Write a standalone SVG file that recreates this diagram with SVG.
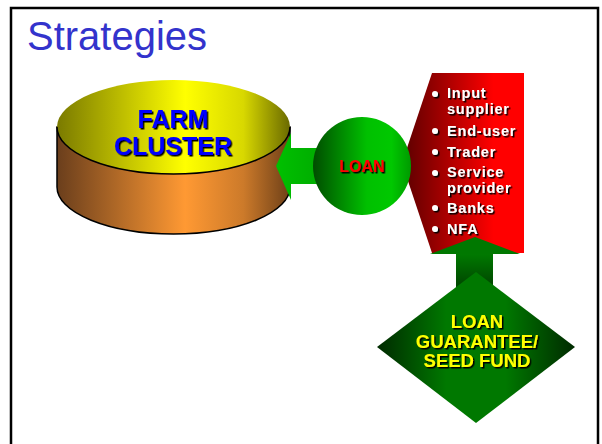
<svg xmlns="http://www.w3.org/2000/svg" width="602" height="444" viewBox="0 0 602 444">
<defs>
<style>
.t{font-family:"Liberation Sans",Arial,sans-serif;font-weight:bold}
.sh{filter:url(#ds)}
.item{font-size:14.5px;fill:#fff;letter-spacing:0.8px}
</style>
<filter id="ds" x="-10%" y="-20%" width="130%" height="150%">
<feDropShadow dx="1.5" dy="1.5" stdDeviation="0" flood-color="#000" flood-opacity="1"/>
</filter>
<linearGradient id="gTop" x1="0" y1="0" x2="1" y2="0">
<stop offset="0" stop-color="#7a7a00"/>
<stop offset="0.55" stop-color="#ffff00"/>
<stop offset="0.8" stop-color="#d8d800"/>
<stop offset="1" stop-color="#6a6a00"/>
</linearGradient>
<linearGradient id="gSide" x1="0" y1="0" x2="1" y2="0">
<stop offset="0" stop-color="#6a3e1c"/>
<stop offset="0.55" stop-color="#ff9933"/>
<stop offset="0.8" stop-color="#cc7a2a"/>
<stop offset="1" stop-color="#6e4018"/>
</linearGradient>
<linearGradient id="gCirc" x1="0" y1="0" x2="1" y2="0">
<stop offset="0" stop-color="#004d00"/>
<stop offset="0.55" stop-color="#00c000"/>
<stop offset="0.8" stop-color="#00c800"/>
<stop offset="1" stop-color="#009a00"/>
</linearGradient>
<linearGradient id="gRed" x1="0" y1="0" x2="1" y2="0">
<stop offset="0" stop-color="#5a0000"/>
<stop offset="0.75" stop-color="#ff0000"/>
<stop offset="1" stop-color="#ff0000"/>
</linearGradient>
<linearGradient id="gDia" x1="0" y1="0" x2="1" y2="0">
<stop offset="0" stop-color="#002a00"/>
<stop offset="0.35" stop-color="#007800"/>
<stop offset="0.65" stop-color="#007800"/>
<stop offset="1" stop-color="#002a00"/>
</linearGradient>
<linearGradient id="gUp" x1="0" y1="0" x2="0" y2="1">
<stop offset="0" stop-color="#008000"/>
<stop offset="1" stop-color="#003c00"/>
</linearGradient>
<linearGradient id="gLeft" x1="0" y1="0" x2="1" y2="0">
<stop offset="0" stop-color="#00c000"/>
<stop offset="1" stop-color="#00a800"/>
</linearGradient>
</defs>
<rect x="0" y="0" width="602" height="444" fill="#fff"/>
<g id="frame">
<path d="M11 460 V8 H598 V460" fill="none" stroke="#000" stroke-width="2.5"/>
</g>
<g id="title">
<text x="27" y="50" class="t" style="font-weight:normal;font-size:40px;fill:#3333cc" textLength="180" lengthAdjust="spacingAndGlyphs">Strategies</text>
</g>
<g id="farm-cluster">
<path d="M57 127 V187 A116.5 47 0 0 0 290 187 V127 Z" fill="url(#gSide)" stroke="#000" stroke-width="1.5"/>
<ellipse cx="173.5" cy="127" rx="116.5" ry="47" fill="url(#gTop)"/>
<path d="M57 127 A116.5 47 0 0 0 290 127" fill="none" stroke="#000" stroke-width="1.5"/>
<text class="t sh" text-anchor="middle" font-size="25" fill="#0000ff"><tspan x="173" y="128">FARM</tspan><tspan x="173" y="155">CLUSTER</tspan></text>
</g>
<g id="connectors">
<polygon points="276,166 291,133 291,148 330,148 330,184 291,184 291,200" fill="url(#gLeft)"/>
<rect x="456" y="250" width="37" height="42" fill="url(#gUp)"/>
</g>
<g id="stakeholders">
<polygon points="432,73 524,73 524,253 432,253 402,163" fill="url(#gRed)"/>
<g fill="#fff" class="sh">
<circle cx="435" cy="94" r="3"/>
<circle cx="435" cy="131" r="3"/>
<circle cx="435" cy="152" r="3"/>
<circle cx="435" cy="173" r="3"/>
<circle cx="435" cy="208" r="3"/>
<circle cx="435" cy="229" r="3"/>
</g>
<g class="t sh item">
<text><tspan x="447" y="98">Input</tspan><tspan x="447" y="114.3">supplier</tspan></text>
<text x="447" y="136">End-user</text>
<text x="447" y="157">Trader</text>
<text><tspan x="447" y="177">Service</tspan><tspan x="447" y="193.3">provider</tspan></text>
<text x="447" y="213">Banks</text>
<text x="447" y="234">NFA</text>
</g>
</g>
<g id="up-arrow-head">
<polygon points="475,237 430,254 520,254" fill="#007800"/>
</g>
<g id="loan">
<circle cx="362" cy="166" r="49" fill="url(#gCirc)"/>
<text class="t sh" x="362" y="172" text-anchor="middle" font-size="16" fill="#ff0000">LOAN</text>
</g>
<g id="guarantee">
<polygon points="476,272 575,347 476,423 377,347" fill="url(#gDia)"/>
<text class="t sh" font-size="18.5" fill="#ffff00" text-anchor="middle"><tspan x="477" y="328">LOAN</tspan><tspan x="477" y="348">GUARANTEE/</tspan><tspan x="477" y="367">SEED FUND</tspan></text>
</g>
</svg>
